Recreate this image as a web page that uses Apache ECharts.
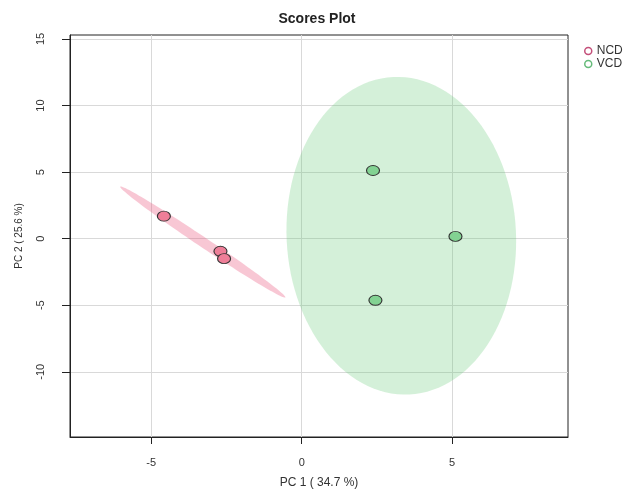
<!DOCTYPE html>
<html><head><meta charset="utf-8">
<script src="https://cdn.jsdelivr.net/npm/echarts@6/dist/echarts.min.js"></script>
<style>html,body{margin:0;padding:0;background:#fff}#c{width:634px;height:490px}</style>
</head><body><div id="c"></div>
<script>
const groups = ['NCD', 'VCD'];
const ncdX = [-4.58, -2.70, -2.58];
const ncdY = [1.69, -0.95, -1.50];
const vcdX = [2.37, 5.11, 2.45];
const vcdY = [5.12, 0.17, -4.63];
const xTicks = [-5, 0, 5];
const yTicks = [-10, -5, 0, 5, 10, 15];
const pointColors = ['#EE7E98', '#82D292'];
const fillColors = ['rgba(232,80,120,0.32)', 'rgba(100,200,120,0.28)'];
const legendColors = ['#C4507A', '#66BB7A'];

// 95% confidence ellipse computed from the group's scores (as ellipse::ellipse does)
function confEllipse(xs, ys, nPts) {
  const n = xs.length;
  const mx = xs.reduce((a, b) => a + b, 0) / n, my = ys.reduce((a, b) => a + b, 0) / n;
  let sxx = 0, syy = 0, sxy = 0;
  for (let i = 0; i < n; i++) { const dx = xs[i] - mx, dy = ys[i] - my; sxx += dx * dx; syy += dy * dy; sxy += dx * dy; }
  sxx /= (n - 1); syy /= (n - 1); sxy /= (n - 1);
  const t = Math.sqrt(5.991464547);
  const s1 = Math.sqrt(sxx), s2 = Math.sqrt(syy);
  const d = Math.acos(sxy / (s1 * s2));
  const pts = [];
  for (let k = 0; k < nPts; k++) {
    const a = 2 * Math.PI * k / nPts;
    pts.push([mx + t * s1 * Math.cos(a + d / 2), my + t * s2 * Math.cos(a - d / 2)]);
  }
  return { center: [mx, my], pts: pts };
}

const xsAll = [ncdX, vcdX], ysAll = [ncdY, vcdY];
const series = [];
groups.forEach((g, i) => {
  const el = confEllipse(xsAll[i], ysAll[i], 120);
  series.push({
    type: 'custom', silent: true, z: 1,
    data: [el.center],
    renderItem: (params, api) => ({
      type: 'polygon',
      shape: { points: el.pts.map(p => api.coord(p)) },
      style: { fill: fillColors[i] }
    })
  });
});
groups.forEach((g, i) => {
  series.push({
    name: g, type: 'scatter', z: 3,
    symbol: 'circle', symbolSize: [13, 10],
    itemStyle: { color: pointColors[i], borderColor: '#333', borderWidth: 1, opacity: 1 },
    data: xsAll[i].map((x, k) => [x, ysAll[i][k]])
  });
});

const font = 'Liberation Sans, Arial, sans-serif';
const chart = echarts.init(document.getElementById('c'));
chart.setOption({
  animation: false,
  backgroundColor: '#fff',
  title: { text: 'Scores Plot', left: 'center', top: 7,
    textStyle: { fontSize: 14, fontWeight: 'bold', color: '#222', fontFamily: font } },
  legend: {
    orient: 'vertical', left: 584, top: 45, padding: 0,
    itemWidth: 7, itemHeight: 7, itemGap: 1, icon: 'circle',
    textStyle: { fontSize: 12, color: '#333', fontFamily: font, padding: [0, 0, 0, 0] },
    data: groups.map((g, i) => ({ name: g, itemStyle: { color: '#fff', borderColor: legendColors[i], borderWidth: 1.5 } }))
  },
  grid: { left: 70, right: 66, top: 35, bottom: 53, outerBoundsMode: 'none', containLabel: false,
    show: true, borderColor: '#222', borderWidth: 1, backgroundColor: 'transparent' },
  xAxis: {
    type: 'value', min: -7.7, max: 8.85, minInterval: 5, maxInterval: 5,
    axisLine: { show: true, onZero: false, lineStyle: { color: '#222' } },
    axisTick: { show: true, length: 7, customValues: xTicks, lineStyle: { color: '#222' } },
    axisLabel: { customValues: xTicks, margin: 20, fontSize: 11, color: '#333', fontFamily: font },
    splitLine: { show: true, lineStyle: { color: '#d9d9d9', width: 1 } },
    name: 'PC 1 ( 34.7 %)', nameLocation: 'middle', nameGap: 40,
    nameTextStyle: { fontSize: 12, color: '#333', fontFamily: font }
  },
  yAxis: {
    type: 'value', min: -14.9, max: 15.3, minInterval: 5, maxInterval: 5,
    axisLine: { show: true, onZero: false, lineStyle: { color: '#222' } },
    axisTick: { show: true, length: 8, customValues: yTicks, lineStyle: { color: '#222' } },
    axisLabel: { customValues: yTicks, rotate: 90, margin: 24, fontSize: 11, color: '#333', fontFamily: font },
    splitLine: { show: true, lineStyle: { color: '#d9d9d9', width: 1 } },
    name: 'PC 2 ( 25.6 %)', nameLocation: 'middle', nameGap: 46,
    nameTextStyle: { fontSize: 10, color: '#333', fontFamily: font }
  },
  series: series
});
</script>
</body></html>
